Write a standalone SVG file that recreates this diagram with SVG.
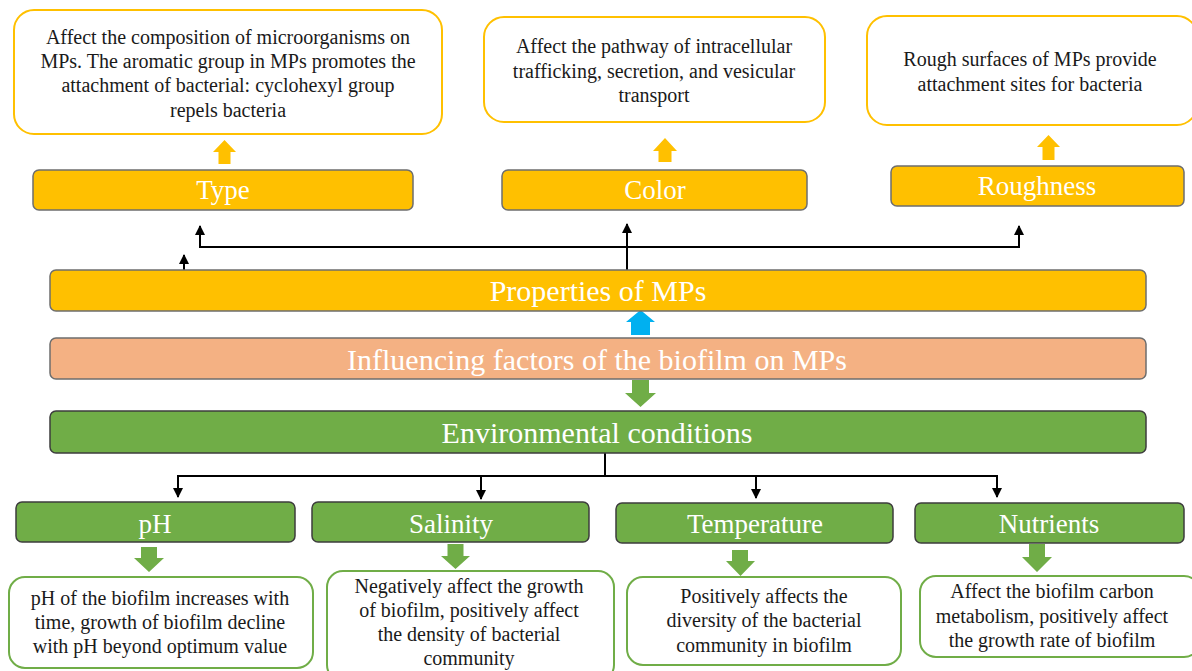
<svg xmlns="http://www.w3.org/2000/svg" width="1192" height="671" viewBox="0 0 1192 671" font-family="Liberation Serif, DejaVu Serif, serif">
<defs>
<style>
text{font-family:'Liberation Serif','Tinos','DejaVu Serif',serif;text-anchor:middle}
.desc{font-size:20px;fill:#1a1a1a}
.title{font-size:27px;fill:#ffffff}
.big{font-size:30px;fill:#ffffff}
.ybox{fill:#FFC000;stroke:#6e6e6e;stroke-width:1.5}
.gbox{fill:#70AD47;stroke:#3d3d3d;stroke-width:1.5}
.sbox{fill:#F4B183;stroke:#6e6e6e;stroke-width:1.5}
.ydesc{fill:#ffffff;stroke:#FFC000;stroke-width:2}
.gdesc{fill:#ffffff;stroke:#70AD47;stroke-width:2}
.yarrow{fill:#FFC000}
.garrow{fill:#70AD47}
.barrow{fill:#00B0F0}
.conn{fill:none;stroke:#000000;stroke-width:2}
</style>
<marker id="ah" viewBox="0 0 10 10" refX="9" refY="5" markerWidth="5" markerHeight="5" orient="auto" markerUnits="strokeWidth">
<path d="M0,0 L10,5 L0,10 z" fill="#000000"/>
</marker>
</defs>
<rect width="1192" height="671" fill="#ffffff"/>

<g id="type-desc">
<rect class="ydesc" x="14" y="10" width="428" height="124" rx="20"/>
<text class="desc" x="228" y="44">Affect the composition of microorganisms on</text>
<text class="desc" x="228" y="68">MPs. The aromatic group in MPs promotes the</text>
<text class="desc" x="228" y="92">attachment of bacterial: cyclohexyl group</text>
<text class="desc" x="228" y="117">repels bacteria</text>
</g>
<g id="color-desc">
<rect class="ydesc" x="484" y="17" width="341" height="105" rx="20"/>
<text class="desc" x="654" y="53">Affect the pathway of intracellular</text>
<text class="desc" x="654" y="78">trafficking, secretion, and vesicular</text>
<text class="desc" x="654" y="102">transport</text>
</g>
<g id="roughness-desc">
<rect class="ydesc" x="867" y="16" width="330" height="109" rx="20"/>
<text class="desc" x="1030" y="66">Rough surfaces of MPs provide</text>
<text class="desc" x="1030" y="91">attachment sites for bacteria</text>
</g>

<g id="arrows-block">
<path class="yarrow" d="M224.5,140 L236,152 L230.5,152 L230.5,164 L218.5,164 L218.5,152 L213,152 z"/>
<path class="yarrow" d="M665,138 L677,151 L671.5,151 L671.5,162 L658.5,162 L658.5,151 L653,151 z"/>
<path class="yarrow" d="M1048.5,135 L1060,147 L1054.5,147 L1054.5,160 L1042.5,160 L1042.5,147 L1037,147 z"/>
<path class="barrow" d="M640.5,310 L655,322 L650,322 L650,335 L631,335 L631,322 L626,322 z"/>
<path class="garrow" d="M632,380 L649,380 L649,393 L656,393 L640.5,407 L625,393 L632,393 z"/>
<path class="garrow" d="M141,547 L157,547 L157,558 L164,558 L149,572 L134,558 L141,558 z"/>
<path class="garrow" d="M447.5,544 L463.5,544 L463.5,556 L470,556 L455.5,569 L441,556 L447.5,556 z"/>
<path class="garrow" d="M732,550 L748,550 L748,561 L755,561 L740.5,576 L726,561 L732,561 z"/>
<path class="garrow" d="M1029,544 L1045,544 L1045,557 L1052,557 L1037,572 L1022,557 L1029,557 z"/>
</g>

<g id="type">
<rect class="ybox" x="33" y="170" width="380" height="40" rx="6"/>
<text class="title" x="223" y="199">Type</text>
</g>
<g id="color">
<rect class="ybox" x="502" y="170" width="305" height="40" rx="6"/>
<text class="title" x="655" y="199">Color</text>
</g>
<g id="roughness">
<rect class="ybox" x="891" y="166" width="293" height="40" rx="6"/>
<text class="title" x="1037" y="195">Roughness</text>
</g>

<g id="connectors">
<path class="conn" d="M1019,247 L200,247 L200,226" marker-end="url(#ah)"/>
<path class="conn" d="M1019,248 L1019,226" marker-end="url(#ah)"/>
<path class="conn" d="M627,270 L627,224" marker-end="url(#ah)"/>
<path class="conn" d="M184,270 L184,255" marker-end="url(#ah)"/>
<path class="conn" d="M605,453 L605,476"/>
<path class="conn" d="M178,476 L997,476"/>
<path class="conn" d="M178,475 L178,497" marker-end="url(#ah)"/>
<path class="conn" d="M481,475 L481,499" marker-end="url(#ah)"/>
<path class="conn" d="M756,475 L756,498" marker-end="url(#ah)"/>
<path class="conn" d="M997,475 L997,497" marker-end="url(#ah)"/>
</g>

<g id="properties">
<rect class="ybox" x="50" y="270" width="1096" height="41" rx="6"/>
<text class="big" x="598" y="301">Properties of MPs</text>
</g>
<g id="influencing">
<rect class="sbox" x="50" y="338" width="1096" height="41" rx="6"/>
<text class="big" x="597" y="370">Influencing factors of the biofilm on MPs</text>
</g>
<g id="environmental">
<rect class="gbox" x="50" y="411" width="1096" height="42" rx="6"/>
<text class="big" x="597" y="443">Environmental conditions</text>
</g>

<g id="ph">
<rect class="gbox" x="16" y="502" width="279" height="40" rx="6"/>
<text class="title" x="155" y="533">pH</text>
</g>
<g id="salinity">
<rect class="gbox" x="312" y="502" width="277" height="40" rx="6"/>
<text class="title" x="451" y="533">Salinity</text>
</g>
<g id="temperature">
<rect class="gbox" x="616" y="503" width="277" height="40" rx="6"/>
<text class="title" x="755" y="533">Temperature</text>
</g>
<g id="nutrients">
<rect class="gbox" x="915" y="503" width="269" height="40" rx="6"/>
<text class="title" x="1049" y="533">Nutrients</text>
</g>

<g id="ph-desc">
<rect class="gdesc" x="9" y="577" width="304" height="91" rx="16"/>
<text class="desc" x="160" y="605">pH of the biofilm increases with</text>
<text class="desc" x="160" y="629">time, growth of biofilm decline</text>
<text class="desc" x="160" y="653">with pH beyond optimum value</text>
</g>
<g id="salinity-desc">
<rect class="gdesc" x="327" y="571" width="287" height="110" rx="16"/>
<text class="desc" x="469" y="593">Negatively affect the growth</text>
<text class="desc" x="469" y="617">of biofilm, positively affect</text>
<text class="desc" x="469" y="641">the density of bacterial</text>
<text class="desc" x="469" y="665">community</text>
</g>
<g id="temperature-desc">
<rect class="gdesc" x="627" y="577" width="274" height="88" rx="16"/>
<text class="desc" x="764" y="603">Positively affects the</text>
<text class="desc" x="764" y="627">diversity of the bacterial</text>
<text class="desc" x="764" y="652">community in biofilm</text>
</g>
<g id="nutrients-desc">
<rect class="gdesc" x="920" y="576" width="280" height="81" rx="16"/>
<text class="desc" x="1052" y="598">Affect the biofilm carbon</text>
<text class="desc" x="1052" y="623">metabolism, positively affect</text>
<text class="desc" x="1052" y="647">the growth rate of biofilm</text>
</g>
</svg>
